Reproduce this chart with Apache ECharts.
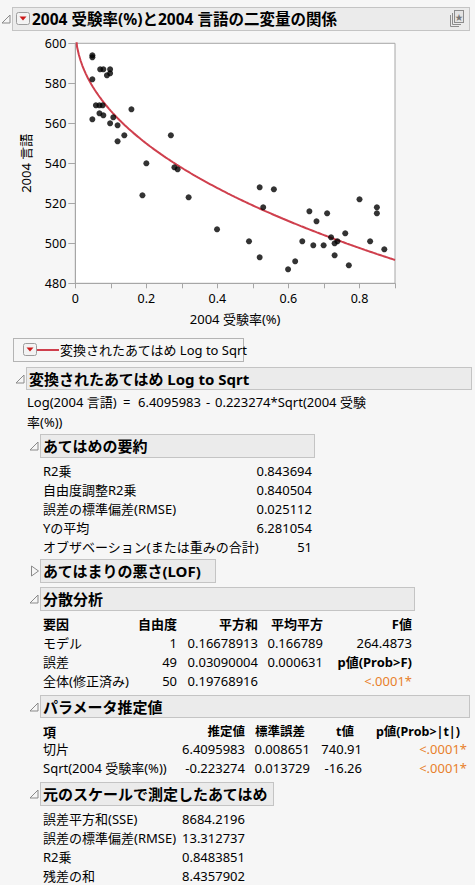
<!DOCTYPE html>
<html><head><meta charset="utf-8">
<script src="https://cdn.jsdelivr.net/npm/echarts@6/dist/echarts.min.js"></script>
<style>
html,body{margin:0;padding:0;background:#f6f6f6;}
#page{position:relative;width:475px;height:885px;overflow:hidden;background:#f6f6f6;font-family:"Noto Sans","Noto Sans CJK JP",sans-serif;color:#000;}
#chart{position:absolute;left:0;top:0;width:475px;height:335px;}
.t{position:absolute;white-space:nowrap;font-size:13px;line-height:16px;height:16px;}
.b{font-weight:bold;}
.box{position:absolute;background:#ebebeb;border:1px solid #c4c4c4;box-sizing:border-box;}
.ic{position:absolute;line-height:0;}
</style></head><body><div id="page"><div id="chart"></div></div>
<script>
// ---- data ----
const rate = [0.048,0.048,0.070,0.079,0.098,0.098,0.089,0.048,0.058,0.068,0.077,0.158,0.068,0.079,0.048,0.107,0.098,0.119,0.138,0.119,0.269,0.200,0.279,0.288,0.189,0.319,0.399,
0.519,0.559,0.529,0.489,0.519,0.599,0.619,0.639,0.659,0.679,0.670,0.699,0.709,0.720,0.730,0.738,0.730,0.760,0.770,0.800,0.830,0.849,0.849,0.870];
const lang = [594,593,587,587,587,585,584,582,569,569,569,567,565,564,562,563,560,559,554,551,554,540,538,537,524,523,507,
528,527,518,501,493,487,491,501,516,511,499,499,515,503,500,501,494,505,489,522,501,518,515,497];
const fitIntercept = 6.4095983;
const fitSlope = -0.223274;
const xTickLabels = ['0','0.2','0.4','0.6','0.8'];
const yTickLabels = ['480','500','520','540','560','580','600'];
const summaryLabels = ['R2乗','自由度調整R2乗','誤差の標準偏差(RMSE)','Yの平均','オブザベーション(または重みの合計)'];
const summaryValues = ['0.843694','0.840504','0.025112','6.281054','51'];
const anovaHead = ['要因','自由度','平方和','平均平方','F値'];
const anovaSource = ['モデル','誤差','全体(修正済み)'];
const anovaDF = ['1','49','50'];
const anovaSS = ['0.16678913','0.03090004','0.19768916'];
const anovaMS = ['0.166789','0.000631',''];
const anovaF = ['264.4873','p値(Prob>F)','<.0001*'];
const paramHead = ['項','推定値','標準誤差','t値','p値(Prob>|t|)'];
const paramTerm = ['切片','Sqrt(2004 受験率(%))'];
const paramEst = ['6.4095983','-0.223274'];
const paramSE = ['0.008651','0.013729'];
const paramT = ['740.91','-16.26'];
const paramP = ['<.0001*','<.0001*'];
const origLabels = ['誤差平方和(SSE)','誤差の標準偏差(RMSE)','R2乗','残差の和'];
const origValues = ['8684.2196','13.312737','0.8483851','8.4357902'];

// ---- page helpers ----
const page = document.getElementById('page');
function T(x, y, text, o) {
  o = o || {};
  const d = document.createElement('div');
  d.className = 't' + (o.bold ? ' b' : '');
  d.textContent = text;
  d.style.top = (y - 8) + 'px';
  if (o.size) d.style.fontSize = o.size + 'px';
  if (o.color) d.style.color = o.color;
  if (o.align === 'right') d.style.right = (475 - x) + 'px'; else d.style.left = x + 'px';
  page.appendChild(d);
  return d;
}
function svg(x, y, w, h, inner) {
  const d = document.createElement('div');
  d.className = 'ic';
  d.style.left = x + 'px'; d.style.top = y + 'px';
  d.innerHTML = '<svg width="' + w + '" height="' + h + '" xmlns="http://www.w3.org/2000/svg">' + inner + '</svg>';
  page.appendChild(d);
}
function box(x1, y1, x2, y2) {
  const d = document.createElement('div');
  d.className = 'box';
  d.style.left = x1 + 'px'; d.style.top = y1 + 'px';
  d.style.width = (x2 - x1) + 'px'; d.style.height = (y2 - y1) + 'px';
  page.appendChild(d);
}
function openTri(x, yc) { svg(x, yc - 5, 10, 10, '<polygon points="1,9 9,9 9,1" fill="none" stroke="#8a8a8a" stroke-width="1"/>'); }
function closedTri(x, yc) { svg(x, yc - 6, 10, 12, '<polygon points="1.5,1 8.5,6 1.5,11" fill="none" stroke="#8a8a8a" stroke-width="1"/>'); }
function dropBtn(x, y) { svg(x, y, 14, 13, '<rect x="0.5" y="0.5" width="13" height="12" rx="2" fill="#f3f3f3" stroke="#9c9c9c"/><polygon points="3.5,4.5 10.5,4.5 7,8.5" fill="#cc1a1a"/>'); }
function header(x1, y1, x2, y2, title, closed) {
  box(x1, y1, x2, y2);
  const yc = (y1 + y2) / 2;
  if (closed) closedTri(x1 - 10, yc); else openTri(x1 - 11, yc);
  T(x1 + 3, yc, title, {bold: true, size: 15});
}

// main header
box(12, 7, 470, 31);
openTri(1, 19);
dropBtn(16, 12);
T(32, 19, '2004 受験率(%)と2004 言語の二変量の関係', {bold: true, size: 15.5});
svg(449, 9, 16, 19, '<rect x="5.5" y="1.5" width="9" height="12" fill="#e4e4e4" stroke="#8c8c8c"/><polyline points="3.5,4 3.5,15.5 12,15.5" fill="none" stroke="#8c8c8c"/><polyline points="1.5,6 1.5,17.5 10,17.5" fill="none" stroke="#8c8c8c"/><text x="10" y="11" font-size="8" text-anchor="middle" fill="#777">★</text>');

// legend box
const lg = document.createElement('div');
lg.style.cssText = 'position:absolute;left:13px;top:338px;width:231px;height:24px;border:1px solid #b4b4b4;box-sizing:border-box;';
page.appendChild(lg);
dropBtn(23, 343);
const lline = document.createElement('div');
lline.style.cssText = 'position:absolute;left:37px;top:348.5px;width:22px;height:2px;background:#cf3f4d;';
page.appendChild(lline);
T(60, 349.5, '変換されたあてはめ Log to Sqrt');

// fit section
header(26, 367, 472, 390, '変換されたあてはめ Log to Sqrt');
T(27, 401.7, 'Log(2004 言語)');
T(123, 401.7, '=');
T(138, 401.7, '6.4095983');
T(206, 401.7, '-');
T(215, 401.7, '0.223274*Sqrt(2004 受験');
T(27, 422, '率(%))');

header(40, 434, 315, 458, 'あてはめの要約');
summaryLabels.forEach((s, i) => {
  const y = 470.7 + i * 19;
  T(43, y, s);
  T(312, y, summaryValues[i], {align: 'right'});
});

header(40, 559, 216, 583, 'あてはまりの悪さ(LOF)', true);

header(40, 587, 415, 611, '分散分析');
const anovaX = [43, 177, 258, 323, 412];
anovaHead.forEach((h, i) => T(anovaX[i], 624, h, {bold: true, align: i === 0 ? 'left' : 'right'}));
anovaSource.forEach((s, i) => {
  const y = 642.7 + i * 19;
  T(43, y, s);
  T(177, y, anovaDF[i], {align: 'right'});
  T(258, y, anovaSS[i], {align: 'right'});
  if (anovaMS[i]) T(323, y, anovaMS[i], {align: 'right'});
  const isP = i === 1, isSig = i === 2;
  T(412, y, anovaF[i], {align: 'right', bold: isP, color: isSig ? '#e8812b' : undefined});
});

header(40, 695, 470, 718, 'パラメータ推定値');
const phX = [43, 245, 305, 354, 460];
paramHead.forEach((h, i) => T(phX[i], 731.7, h, {bold: true, align: i === 0 ? 'left' : 'right', size: i === 0 ? 13 : 12.5}));
paramTerm.forEach((s, i) => {
  const y = 749.3 + i * 19;
  T(43, y, s);
  T(245, y, paramEst[i], {align: 'right'});
  T(310, y, paramSE[i], {align: 'right'});
  T(362, y, paramT[i], {align: 'right'});
  T(467, y, paramP[i], {align: 'right', color: '#e8812b'});
});

header(40, 782, 274, 806, '元のスケールで測定したあてはめ');
origLabels.forEach((s, i) => {
  const y = 819.3 + i * 19;
  T(43, y, s);
  T(245, y, origValues[i], {align: 'right'});
});

// ---- chart ----
const FONT = '"Noto Sans","Noto Sans CJK JP",sans-serif';
const points = rate.map((r, i) => [r, lang[i]]);
const fit = [];
for (let i = 0; i <= 180; i++) {
  const x = i * 0.005;
  fit.push([x, Math.exp(fitIntercept + fitSlope * Math.sqrt(x))]);
}
const chart = echarts.init(document.getElementById('chart'), null, {renderer: 'svg'});
chart.setOption({
  backgroundColor: 'transparent',
  animation: false,
  textStyle: {fontFamily: FONT},
  grid: {left: 75.3, top: 43.3, width: 319.7, height: 240, show: true, backgroundColor: '#ffffff', borderColor: '#a6a6a6', borderWidth: 1},
  xAxis: {
    type: 'value', min: 0, max: 0.9, interval: 0.1,
    name: '2004 受験率(%)', nameLocation: 'middle', nameGap: 29,
    nameTextStyle: {fontSize: 13, color: '#000', fontFamily: FONT},
    axisLine: {show: true, lineStyle: {color: '#a6a6a6'}},
    axisTick: {show: true, length: 5, lineStyle: {color: '#a6a6a6'}},
    axisLabel: {margin: 9, fontSize: 12.5, color: '#000', fontFamily: FONT,
      formatter: v => { const k = Math.round(v * 10); return k % 2 === 0 ? xTickLabels[k / 2] || '' : ''; }},
    splitLine: {show: false}
  },
  yAxis: {
    type: 'value', min: 480, max: 600, interval: 20,
    name: '2004 言語', nameLocation: 'middle', nameGap: 43,
    nameTextStyle: {fontSize: 13, color: '#000', fontFamily: FONT},
    axisLine: {show: true, lineStyle: {color: '#a6a6a6'}},
    axisTick: {show: true, length: 7, lineStyle: {color: '#a6a6a6'}},
    axisLabel: {margin: 9, fontSize: 12.5, color: '#000', fontFamily: FONT,
      formatter: v => yTickLabels[Math.round((v - 480) / 20)] || ''},
    splitLine: {show: false}
  },
  series: [
    {type: 'line', data: fit, showSymbol: false, clip: true, smooth: false,
     lineStyle: {color: '#cf3f4d', width: 2}, z: 2},
    {type: 'scatter', data: points, symbolSize: 6, itemStyle: {color: '#000'}, z: 3}
  ]
});
</script></body></html>
